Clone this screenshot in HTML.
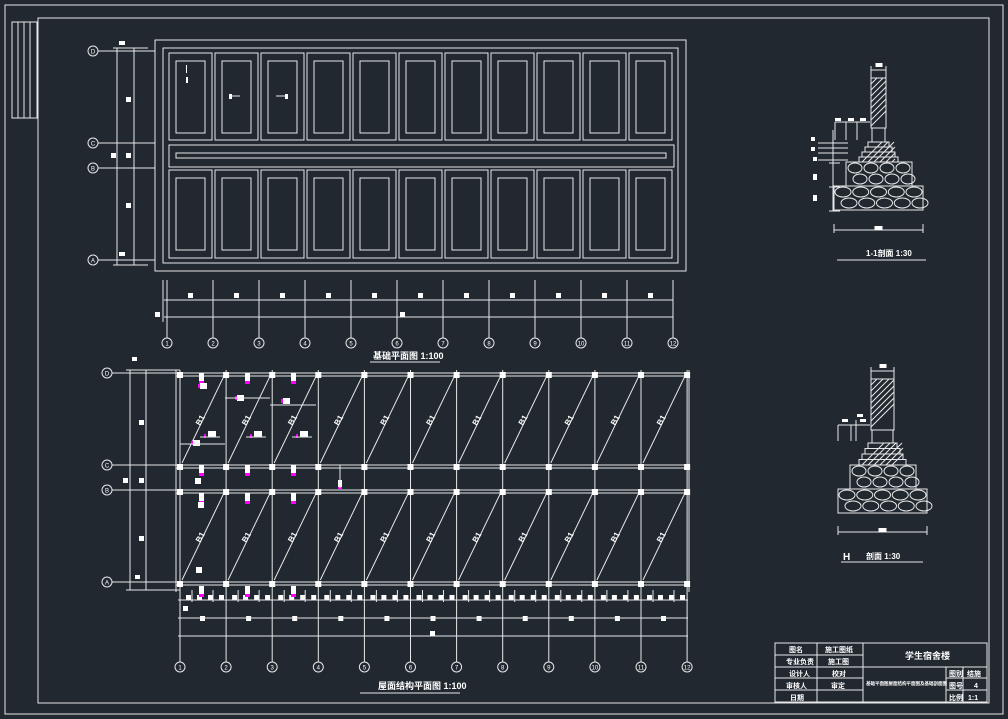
<!DOCTYPE html>
<html><head><meta charset="utf-8">
<style>
html,body{margin:0;padding:0;background:#212830;overflow:hidden;}
svg{display:block}
text{font-family:"Liberation Sans","Noto Sans CJK SC",sans-serif;fill:#fff;}
</style></head>
<body>
<svg id="s" width="1008" height="719" viewBox="0 0 1008 719" xmlns="http://www.w3.org/2000/svg">
<rect width="1008" height="719" fill="#212830"/>
<g id="g" stroke="#e8e8e8" stroke-width="1" fill="none"></g>
<g id="t" font-size="9">
<text x="373" y="359" font-size="9" font-weight="bold">基础平面图 1:100</text>
<text x="378" y="689" font-size="9" font-weight="bold">屋面结构平面图 1:100</text>
<text x="866" y="256" font-size="8" font-weight="bold">1-1剖面 1:30</text>
<text x="843" y="560" font-size="10" font-weight="bold">H</text>
<text x="866" y="559" font-size="8" font-weight="bold">剖面 1:30</text>
<text x="789" y="652" font-size="7" font-weight="bold">图名</text>
<text x="825" y="652" font-size="7" font-weight="bold">施工图纸</text>
<text x="786" y="664" font-size="7" font-weight="bold">专业负责</text>
<text x="828" y="664" font-size="7" font-weight="bold">施工图</text>
<text x="789" y="676" font-size="7" font-weight="bold">设计人</text>
<text x="832" y="676" font-size="7" font-weight="bold">校对</text>
<text x="786" y="688" font-size="7" font-weight="bold">审核人</text>
<text x="831" y="688" font-size="7" font-weight="bold">审定</text>
<text x="790" y="700" font-size="7" font-weight="bold">日期</text>
<text x="905" y="659" font-size="9" font-weight="bold">学生宿舍楼</text>
<text x="866" y="685" font-size="4.5" font-weight="bold">基础平面图屋面结构平面图及基础剖面图</text>
<text x="949" y="676" font-size="7" font-weight="bold">图别</text>
<text x="967" y="676" font-size="7" font-weight="bold">结施</text>
<text x="949" y="688" font-size="7" font-weight="bold">图号</text>
<text x="974" y="688" font-size="7" font-weight="bold">4</text>
<text x="949" y="700" font-size="7" font-weight="bold">比例</text>
<text x="968" y="700" font-size="7" font-weight="bold">1:1</text>
</g>
</svg>
<script>
var g=document.getElementById('g'),T=document.getElementById('t'),NS='http://www.w3.org/2000/svg';
function el(n,a,p){var e=document.createElementNS(NS,n);for(var k in a)e.setAttribute(k,a[k]);(p||g).appendChild(e);return e;}
function L(x1,y1,x2,y2,c){el('line',{x1:x1,y1:y1,x2:x2,y2:y2,stroke:c||'#e8e8e8'});}
function R(x,y,w,h){el('rect',{x:x,y:y,width:w,height:h});}
function F(x,y,w,h,c){el('rect',{x:x,y:y,width:w,height:h,fill:c||'#fff',stroke:'none'});}
function C(x,y,lab){el('circle',{cx:x,cy:y,r:5});var t=el('text',{x:x,y:y+2.5,'font-size':6,'text-anchor':'middle'},T);t.textContent=lab;}
R(5,5,998,709);R(38,18,951,685);
R(12,22,25,96);[18,24,30].forEach(function(x){L(x,22,x,118)});
R(155,40,531,231);R(163,48,515,215);
for(var i=0;i<11;i++){var x=169+46*i;R(x,53,43,87);R(x+7,61,29,72);R(x,170,43,88);R(x+7,178,29,72);}
R(169,145,505,22);R(176,153,490,5);
var topAx=[['D',51],['C',143],['B',168],['A',260]];
topAx.forEach(function(a){C(93,a[1],a[0]);L(98,a[1],155,a[1]);});
L(117,48,117,265);L(134,48,134,265);L(113,48,148,48);L(113,265,148,265);
F(126,97,5,5);F(126,153,5,5);F(111,153,5,5);F(126,203,5,5);F(119,41,6,4);F(119,252,6,4);
for(var i=0;i<12;i++){var x=167+46.0*i;L(x,280,x,338);C(x,343,String(i+1));if(i<11)F(x+21,293,5,5);}
L(163,280,163,322);L(164,300,673,300);L(164,317,673,317);F(155,312,5,5);F(400,312,5,5);
L(370,362,440,362);
F(186,65,1,8);F(186,77,2,6);L(230,96,240,96);L(276,96,286,96);F(229,94,3,5);F(285,94,3,5);
var botAx=[['D',373],['C',465],['B',490],['A',582]];
for(var i=0;i<12;i++){var x=180+46.1*i;L(x,370,x,662);C(x,667,String(i+1));}
botAx.forEach(function(a){var y=a[1];C(107,y,a[0]);L(112,y,180,y);L(176,y,688,y);L(176,y+3,688,y+3);});
L(130,370,130,590);L(146,370,146,590);L(126,370,180,370);L(126,590,180,590);
L(176,370,176,592);L(689,370,689,592);
F(139,420,5,5);F(139,478,5,5);F(123,478,5,5);F(139,536,5,5);F(132,357,5,4);F(135,575,5,4);
for(var i=0;i<11;i++){var x=180+46.1*i;
 L(x+2,463,x+44,376);L(x+2,580,x+44,493);
 var tx=el('text',{x:x+20,y:423,'font-size':8,'font-weight':'bold',transform:'rotate(-60 '+(x+20)+' 420)','text-anchor':'middle'},T);tx.textContent='B1';
 var tx2=el('text',{x:x+20,y:540,'font-size':8,'font-weight':'bold',transform:'rotate(-60 '+(x+20)+' 537)','text-anchor':'middle'},T);tx2.textContent='B1';
 for(var j=0;j<4;j++)F(x+6+j*11,595,5,5);
 F(x+20,616,5,5);
 L(x+12,590,x+12,602);L(x+33,590,x+33,602);
}
for(var i=0;i<12;i++){var x=180+46.1*i;F(x-3,372,6,6);F(x-3,464,6,6);F(x-3,489,6,6);F(x-3,581,6,6);}
L(178,600,688,600);L(178,618,688,618);L(178,636,688,636);F(430,631,5,5);F(183,606,5,5);
L(360,693,460,693);
[180,226,272].forEach(function(x){
 F(x+19,373,5,8);F(x+19,381,5,3,'#ff00ff');
 F(x+19,465,5,8);F(x+19,473,5,3,'#ff00ff');
 F(x+19,493,5,8);F(x+19,501,5,3,'#ff00ff');
 F(x+19,586,5,8);F(x+19,594,5,3,'#ff00ff');
 F(x+28,431,8,6);F(x+24,434,2,4,'#ff00ff');L(x+20,437,x+40,437);
});
F(200,383,7,6);F(198,384,2,4,'#ff00ff');F(237,395,7,6);F(235,396,2,4,'#ff00ff');L(225,398,270,398);
F(283,398,7,6);F(281,399,2,4,'#ff00ff');L(270,405,316,405);
F(193,440,7,6);F(191,441,2,4,'#ff00ff');L(180,444,225,444);
F(195,478,6,6);F(198,502,6,6);F(196,567,6,6);F(338,480,4,8);F(338,487,4,2,'#ff00ff');
L(340,465,340,488);
function sec(wx,ww,wy1,wy2,bh,n,h,b1,b2,dimy){
 R(wx,wy1,ww,wy2-wy1);
 for(var y=wy1+6;y<=wy2;y+=6){var dx=Math.min(ww,y-wy1);L(wx,y,wx+dx,y-dx);}
 R(wx+1,wy2,ww-2,bh);
 var sy=wy2+bh,xl=wx-3,xr=wx+ww+3;
 for(var i=0;i<n;i++){R(xl-i*3,sy+i*h,(xr-xl)+i*6,h);}
 var y2=sy+n*h;
 for(var k=0;k<6;k++){var bx=xl-6+k*6;L(bx,y2,Math.min(bx+n*h,xr+6),y2-Math.min(n*h,xr+6-bx));}
 R(b1[0],y2,b1[1]-b1[0],b1[2]);R(b2[0],y2+b1[2],b2[1]-b2[0],b2[2]);
 var w1=b1[1]-b1[0],w2=b2[1]-b2[0];
 for(var r=0;r<2;r++)for(var c=0;c<4;c++){el('ellipse',{cx:b1[0]+9+c*(w1-18)/3+(r?5:0),cy:y2+6+r*11,rx:7,ry:5});}
 for(var r=0;r<2;r++)for(var c=0;c<5;c++){el('ellipse',{cx:b2[0]+9+c*(w2-18)/4+(r?6:0),cy:y2+b1[2]+6+r*11,rx:8,ry:5});}
 L(b2[0],dimy-6,b2[0],dimy+3);L(b2[1],dimy-6,b2[1],dimy+3);L(b2[0],dimy,b2[1],dimy);F((b2[0]+b2[1])/2-4,dimy-4,8,4);
 L(wx,wy1-12,wx,wy1);L(wx+ww,wy1-12,wx+ww,wy1);L(wx,wy1-8,wx+ww,wy1-8);F(wx+ww/2-3,wy1-15,7,4);
}
sec(871,15,78,128,14,4,5,[846,912,24],[834,923,24],230);
L(837,260,926,260);L(833,130,833,211);L(829,211,840,211);L(829,187,840,187);L(829,163,840,163);
[143,148,153,160].forEach(function(y){L(818,y,848,y)});
F(811,137,4,4);F(811,147,4,4);F(813,157,4,4);F(813,174,4,6);F(813,195,4,6);
L(835,122,870,122);F(835,118,6,3);F(848,118,6,3);F(860,118,6,3);L(835,122,835,140);L(846,122,846,140);L(857,122,857,140);
sec(871,23,379,430,13,4,5.5,[850,916,24],[838,927,24],532);
L(841,562,923,562);
L(838,425,870,425);L(838,425,838,441);L(851,425,851,441);L(856,420,856,441);F(842,419,6,3);F(857,414,6,3);F(860,419,6,3);
R(775,643,212,59);
[655,667,678,690].forEach(function(y){L(775,y,863,y)});L(863,667,987,667);
L(817,643,817,702);L(863,643,863,702);L(946,667,946,702);L(963,667,963,702);L(946,678,987,678);L(946,690,987,690);
</script>
</body></html>
